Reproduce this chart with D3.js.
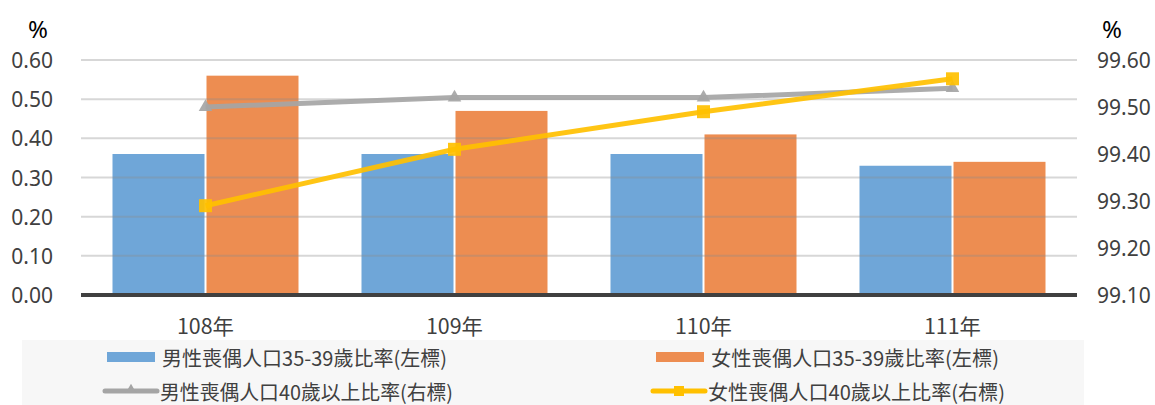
<!DOCTYPE html>
<html>
<head>
<meta charset="utf-8">
<script src="https://cdn.jsdelivr.net/npm/d3@7"></script>
<style>
  body { margin: 0; background: #fff; }
  svg text { font-family: "Noto Sans CJK TC", "Noto Sans", sans-serif; }
</style>
</head>
<body>
<svg id="chart" width="1155" height="405"></svg>
<script>
// data
const years = ["108年", "109年", "110年", "111年"];
const male3539 = [0.36, 0.36, 0.36, 0.33];
const female3539 = [0.56, 0.47, 0.41, 0.34];
const male40 = [99.50, 99.52, 99.52, 99.54];
const female40 = [99.29, 99.41, 99.49, 99.56];
const leftTicks = [0, 0.1, 0.2, 0.3, 0.4, 0.5, 0.6];
const rightTicks = [99.1, 99.2, 99.3, 99.4, 99.5, 99.6];
const legendNames = [
  "男性喪偶人口35-39歲比率(左標)",
  "女性喪偶人口35-39歲比率(左標)",
  "男性喪偶人口40歲以上比率(右標)",
  "女性喪偶人口40歲以上比率(右標)"
];

const blue = "#6fa6d8", orange = "#ed8d51", grey = "#a5a5a5", yellow = "#ffc000";

const svg = d3.select("#chart");
const plotL = 81, plotR = 1077, plotT = 60, plotB = 295;

const x = d3.scaleBand().domain(years).range([plotL, plotR]);
const yL = d3.scaleLinear().domain([0, 0.6]).range([plotB, plotT]);
const yR = d3.scaleLinear().domain([99.1, 99.6]).range([plotB, plotT]);

const barW = 92, gap = 2;
const groupOff = (x.bandwidth() - (barW * 2 + gap)) / 2;

// bars
svg.selectAll(".bm").data(male3539).enter().append("rect")
  .attr("x", (d, i) => x(years[i]) + groupOff)
  .attr("y", d => yL(d))
  .attr("width", barW)
  .attr("height", d => plotB - yL(d))
  .attr("fill", blue);

svg.selectAll(".bf").data(female3539).enter().append("rect")
  .attr("x", (d, i) => x(years[i]) + groupOff + barW + gap)
  .attr("y", d => yL(d))
  .attr("width", barW)
  .attr("height", d => plotB - yL(d))
  .attr("fill", orange);

// gridlines (drawn over bars, semi transparent like the original)
svg.selectAll(".grid").data(leftTicks.slice(1)).enter().append("line")
  .attr("x1", plotL).attr("x2", plotR)
  .attr("y1", d => yL(d)).attr("y2", d => yL(d))
  .attr("stroke", "#8c8c8c").attr("stroke-opacity", 0.35)
  .attr("stroke-width", 2);

// baseline
svg.append("line")
  .attr("x1", plotL).attr("x2", plotR)
  .attr("y1", plotB).attr("y2", plotB)
  .attr("stroke", "#404040").attr("stroke-width", 4);

// left axis labels
svg.selectAll(".lt").data(leftTicks).enter().append("text")
  .attr("x", 53).attr("y", d => yL(d))
  .attr("text-anchor", "end").attr("dominant-baseline", "central")
  .style("font-family", "'Noto Sans', sans-serif")
  .style("font-size", "21px").attr("fill", "#404040")
  .text(d => d3.format(".2f")(d));

// right axis labels
svg.selectAll(".rt").data(rightTicks).enter().append("text")
  .attr("x", 1097).attr("y", d => yR(d))
  .attr("dominant-baseline", "central")
  .style("font-family", "'Noto Sans', sans-serif")
  .style("font-size", "21px").attr("fill", "#404040")
  .text(d => d3.format(".2f")(d));

svg.append("text").attr("x", 38).attr("y", 28)
  .attr("text-anchor", "middle").attr("dominant-baseline", "central")
  .style("font-family", "'Noto Sans', sans-serif")
  .style("font-size", "24px").attr("fill", "#000").text("%");
svg.append("text").attr("x", 1112).attr("y", 28)
  .attr("text-anchor", "middle").attr("dominant-baseline", "central")
  .style("font-family", "'Noto Sans', sans-serif")
  .style("font-size", "24px").attr("fill", "#000").text("%");

// category labels
svg.selectAll(".cat").data(years).enter().append("text")
  .attr("x", d => x(d) + x.bandwidth() / 2).attr("y", 325)
  .attr("text-anchor", "middle").attr("dominant-baseline", "central")
  .attr("textLength", 57).attr("lengthAdjust", "spacingAndGlyphs")
  .style("font-size", "21px").attr("fill", "#404040")
  .text(d => d);

// lines
const line = d3.line().x((d, i) => x(years[i]) + x.bandwidth() / 2);

svg.append("path").datum(male40)
  .attr("d", line.y(d => yR(d)))
  .attr("fill", "none").attr("stroke", grey).attr("stroke-width", 5)
  .attr("stroke-opacity", 0.92);
svg.selectAll(".tri").data(male40).enter().append("path")
  .attr("transform", (d, i) => `translate(${x(years[i]) + x.bandwidth() / 2},${yR(d)})`)
  .attr("d", d3.symbol(d3.symbolTriangle, 80))
  .attr("fill", grey).attr("fill-opacity", 0.92);

svg.append("path").datum(female40)
  .attr("d", line.y(d => yR(d)))
  .attr("fill", "none").attr("stroke", yellow).attr("stroke-width", 5)
  .attr("stroke-opacity", 0.92);
svg.selectAll(".sq").data(female40).enter().append("rect")
  .attr("x", (d, i) => x(years[i]) + x.bandwidth() / 2 - 6.5)
  .attr("y", d => yR(d) - 6.5)
  .attr("width", 13).attr("height", 13)
  .attr("fill", yellow).attr("fill-opacity", 0.92);

// legend
svg.append("rect").attr("x", 22).attr("y", 340).attr("width", 1062).attr("height", 65)
  .attr("fill", "#f7f7f7");

const lg = [
  { x: 107, y: 357, type: "bar", color: blue, w: 285 },
  { x: 656, y: 357, type: "bar", color: orange, w: 288 },
  { x: 105, y: 391, type: "tri", color: grey, w: 293 },
  { x: 653, y: 391, type: "sq", color: yellow, w: 297 }
];
lg.forEach((d, i) => {
  if (d.type === "bar") {
    svg.append("rect").attr("x", d.x).attr("y", d.y - 5).attr("width", 48).attr("height", 10)
      .attr("fill", d.color);
  } else {
    svg.append("line").attr("x1", d.x).attr("x2", d.x + 52).attr("y1", d.y).attr("y2", d.y)
      .attr("stroke", d.color).attr("stroke-width", 5).attr("stroke-linecap", "round");
    if (d.type === "tri") {
      svg.append("path").attr("transform", `translate(${d.x + 26},${d.y - 1})`)
        .attr("d", d3.symbol(d3.symbolTriangle, 50)).attr("fill", d.color);
    } else {
      svg.append("rect").attr("x", d.x + 21).attr("y", d.y - 5).attr("width", 10).attr("height", 10)
        .attr("fill", d.color);
    }
  }
  svg.append("text").attr("x", d.x + 55).attr("y", d.y)
    .attr("dominant-baseline", "central")
    .attr("textLength", d.w).attr("lengthAdjust", "spacingAndGlyphs")
    .style("font-size", "20px").attr("fill", "#404040")
    .text(legendNames[i]);
});
</script>
</body>
</html>
